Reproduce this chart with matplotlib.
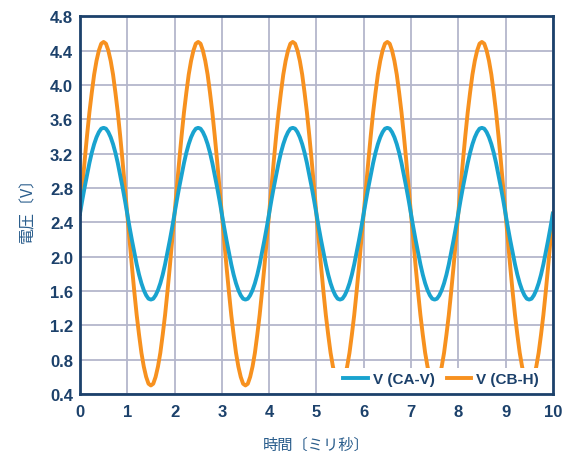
import matplotlib
matplotlib.use('Agg')
import matplotlib.pyplot as plt
from matplotlib.patches import Rectangle
import numpy as np

# time axis (ms), sampled every 0.05 ms
t_ms = np.round(np.arange(0, 201) * 0.05, 2)

# V (CA-V), one row per 2 ms period
v_ca = [2.50, 2.66, 2.81, 2.95, 3.09, 3.21, 3.31, 3.39, 3.45, 3.49, 3.50, 3.49, 3.45, 3.39, 3.31, 3.21, 3.09, 2.95, 2.81, 2.66,
        2.50, 2.34, 2.19, 2.05, 1.91, 1.79, 1.69, 1.61, 1.55, 1.51, 1.50, 1.51, 1.55, 1.61, 1.69, 1.79, 1.91, 2.05, 2.19, 2.34,
        2.50, 2.66, 2.81, 2.95, 3.09, 3.21, 3.31, 3.39, 3.45, 3.49, 3.50, 3.49, 3.45, 3.39, 3.31, 3.21, 3.09, 2.95, 2.81, 2.66,
        2.50, 2.34, 2.19, 2.05, 1.91, 1.79, 1.69, 1.61, 1.55, 1.51, 1.50, 1.51, 1.55, 1.61, 1.69, 1.79, 1.91, 2.05, 2.19, 2.34,
        2.50, 2.66, 2.81, 2.95, 3.09, 3.21, 3.31, 3.39, 3.45, 3.49, 3.50, 3.49, 3.45, 3.39, 3.31, 3.21, 3.09, 2.95, 2.81, 2.66,
        2.50, 2.34, 2.19, 2.05, 1.91, 1.79, 1.69, 1.61, 1.55, 1.51, 1.50, 1.51, 1.55, 1.61, 1.69, 1.79, 1.91, 2.05, 2.19, 2.34,
        2.50, 2.66, 2.81, 2.95, 3.09, 3.21, 3.31, 3.39, 3.45, 3.49, 3.50, 3.49, 3.45, 3.39, 3.31, 3.21, 3.09, 2.95, 2.81, 2.66,
        2.50, 2.34, 2.19, 2.05, 1.91, 1.79, 1.69, 1.61, 1.55, 1.51, 1.50, 1.51, 1.55, 1.61, 1.69, 1.79, 1.91, 2.05, 2.19, 2.34,
        2.50, 2.66, 2.81, 2.95, 3.09, 3.21, 3.31, 3.39, 3.45, 3.49, 3.50, 3.49, 3.45, 3.39, 3.31, 3.21, 3.09, 2.95, 2.81, 2.66,
        2.50, 2.34, 2.19, 2.05, 1.91, 1.79, 1.69, 1.61, 1.55, 1.51, 1.50, 1.51, 1.55, 1.61, 1.69, 1.79, 1.91, 2.05, 2.19, 2.34,
        2.50]

# V (CB-H)
v_cb = [2.50, 2.81, 3.12, 3.41, 3.68, 3.91, 4.12, 4.28, 4.40, 4.48, 4.50, 4.48, 4.40, 4.28, 4.12, 3.91, 3.68, 3.41, 3.12, 2.81,
        2.50, 2.19, 1.88, 1.59, 1.32, 1.09, 0.88, 0.72, 0.60, 0.52, 0.50, 0.52, 0.60, 0.72, 0.88, 1.09, 1.32, 1.59, 1.88, 2.19,
        2.50, 2.81, 3.12, 3.41, 3.68, 3.91, 4.12, 4.28, 4.40, 4.48, 4.50, 4.48, 4.40, 4.28, 4.12, 3.91, 3.68, 3.41, 3.12, 2.81,
        2.50, 2.19, 1.88, 1.59, 1.32, 1.09, 0.88, 0.72, 0.60, 0.52, 0.50, 0.52, 0.60, 0.72, 0.88, 1.09, 1.32, 1.59, 1.88, 2.19,
        2.50, 2.81, 3.12, 3.41, 3.68, 3.91, 4.12, 4.28, 4.40, 4.48, 4.50, 4.48, 4.40, 4.28, 4.12, 3.91, 3.68, 3.41, 3.12, 2.81,
        2.50, 2.19, 1.88, 1.59, 1.32, 1.09, 0.88, 0.72, 0.60, 0.52, 0.50, 0.52, 0.60, 0.72, 0.88, 1.09, 1.32, 1.59, 1.88, 2.19,
        2.50, 2.81, 3.12, 3.41, 3.68, 3.91, 4.12, 4.28, 4.40, 4.48, 4.50, 4.48, 4.40, 4.28, 4.12, 3.91, 3.68, 3.41, 3.12, 2.81,
        2.50, 2.19, 1.88, 1.59, 1.32, 1.09, 0.88, 0.72, 0.60, 0.52, 0.50, 0.52, 0.60, 0.72, 0.88, 1.09, 1.32, 1.59, 1.88, 2.19,
        2.50, 2.81, 3.12, 3.41, 3.68, 3.91, 4.12, 4.28, 4.40, 4.48, 4.50, 4.48, 4.40, 4.28, 4.12, 3.91, 3.68, 3.41, 3.12, 2.81,
        2.50, 2.19, 1.88, 1.59, 1.32, 1.09, 0.88, 0.72, 0.60, 0.52, 0.50, 0.52, 0.60, 0.72, 0.88, 1.09, 1.32, 1.59, 1.88, 2.19,
        2.50]

x_ticks = [0, 1, 2, 3, 4, 5, 6, 7, 8, 9, 10]
y_ticks = [0.4, 0.8, 1.2, 1.6, 2.0, 2.4, 2.8, 3.2, 3.6, 4.0, 4.4, 4.8]

navy = '#1c416b'
label_col = '#2a5d8c'
blue = '#19a3cf'
orange = '#f7911f'
grid_col = '#b4b6cb'

plt.rcParams['font.family'] = ['Liberation Sans', 'Noto Sans CJK JP', 'DejaVu Sans']

fig = plt.figure(figsize=(5.67, 4.52), dpi=100)
ax = fig.add_axes([0.141, 0.126, 0.834, 0.836])

ax.plot(t_ms, v_ca, color=blue, lw=2.8, label='V (CA-V)', zorder=3)
ax.plot(t_ms, v_cb, color=orange, lw=2.8, label='V (CB-H)', zorder=2)

ax.set_xlim(0, 10)
ax.set_ylim(0.4, 4.8)
ax.set_xticks(x_ticks)
ax.set_yticks(y_ticks)
ax.set_yticklabels([f'{v:.1f}' for v in y_ticks])
ax.grid(True, color=grid_col, lw=1.3)
ax.set_axisbelow(True)
ax.tick_params(length=0, labelsize=12, labelcolor=navy)
ax.tick_params(axis='y', pad=5)
ax.tick_params(axis='x', pad=7)
for lab in ax.get_xticklabels() + ax.get_yticklabels():
    lab.set_fontweight('bold')
for sp in ax.spines.values():
    sp.set_color(navy)
    sp.set_linewidth(2)
    sp.set_zorder(5)

ax.set_xlabel('時間〔ミリ秒〕', color=label_col, fontsize=11,
              family=['Noto Sans CJK JP', 'DejaVu Sans'], labelpad=12)
ax.set_ylabel('電圧〔V〕', color=label_col, fontsize=11.5,
              family=['Noto Sans CJK JP', 'DejaVu Sans'], labelpad=10)

# white box behind the legend (it hides the lower troughs)
ax.add_patch(Rectangle((0.53, 0.0), 0.47, 0.068, transform=ax.transAxes,
                       facecolor='white', edgecolor='none', zorder=3.5))

leg = ax.legend(loc='lower right', bbox_to_anchor=(1.0, -0.016), ncol=2,
                frameon=False, borderpad=0.3,
                handlelength=1.6, columnspacing=0.75, handletextpad=0.35,
                borderaxespad=0.6, prop={'weight': 'bold', 'size': 11})
leg.set_zorder(4)
for txt in leg.get_texts():
    txt.set_color(navy)

fig.savefig('out.png', dpi=100)
